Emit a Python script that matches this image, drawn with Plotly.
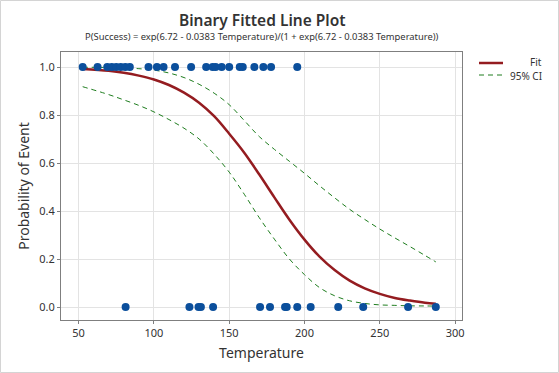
import plotly.graph_objects as go

# Observed events (Temperature) for Success = 1 and Success = 0
temp_success = [52.7, 62.6, 69, 72, 75, 78, 81, 84, 96.4, 102, 106.4, 114, 124.7,
                134.7, 139, 141, 145, 150, 157, 159, 166.7, 172.7, 177.8, 195.2]
temp_failure = [81.2, 123.6, 129.6, 131.2, 139.3, 170.5, 177.1, 187.1, 188.2,
                195.2, 204.1, 222.4, 239, 268.8, 287.2]

# Fitted curve and 95% CI
curve_temp = [52.7, 70, 80, 90, 100, 110, 120, 130, 140, 150, 160, 170, 180, 190,
              200, 210, 220, 230, 240, 250, 260, 270, 280, 287.2]
fit_prob = [0.992, 0.984, 0.976, 0.964, 0.948, 0.925, 0.893, 0.851, 0.795, 0.722, 0.643, 0.552,
            0.457, 0.364, 0.281, 0.21, 0.154, 0.11, 0.078, 0.055, 0.038, 0.027, 0.018, 0.014]
ci_upper = [0.999, 0.998, 0.996, 0.993, 0.987, 0.975, 0.956, 0.928, 0.891, 0.843, 0.777, 0.710,
            0.657, 0.607, 0.557, 0.505, 0.455, 0.407, 0.365, 0.325, 0.288, 0.252, 0.215, 0.188]
ci_lower = [0.918, 0.885, 0.863, 0.84, 0.813, 0.781, 0.745, 0.70, 0.637, 0.562, 0.47, 0.372,
            0.283, 0.20, 0.135, 0.081, 0.047, 0.026, 0.015, 0.009, 0.007, 0.005, 0.0045, 0.004]

x_ticks = [50, 100, 150, 200, 250, 300]
y_ticks = [0.0, 0.2, 0.4, 0.6, 0.8, 1.0]

FONT = "Noto Sans"
BLUE = "#0B4F9C"
RED = "#941C20"
GREEN = "#1E7D1E"

fig = go.Figure()
fig.add_trace(go.Scatter(x=curve_temp, y=ci_upper, mode="lines", line=dict(color=GREEN, width=1, dash="5px,4px", shape="spline"), showlegend=False))
fig.add_trace(go.Scatter(x=curve_temp, y=ci_lower, mode="lines", line=dict(color=GREEN, width=1, dash="5px,4px", shape="spline"), showlegend=False))
fig.add_trace(go.Scatter(x=curve_temp, y=fit_prob, mode="lines", line=dict(color=RED, width=2.5, shape="spline"), showlegend=False))
fig.add_trace(go.Scatter(x=temp_success, y=[1] * len(temp_success), mode="markers", marker=dict(color=BLUE, size=8), showlegend=False))
fig.add_trace(go.Scatter(x=temp_failure, y=[0] * len(temp_failure), mode="markers", marker=dict(color=BLUE, size=8), showlegend=False))

W, H = 559, 373
L, R, T, B = 61, 97, 52, 53
pw, ph = W - L - R, H - T - B

def px(xp):
    return (xp - L) / pw

def py(yp):
    return (H - B - yp) / ph

shapes = [
    # outer frame
    dict(type="rect", xref="paper", yref="paper", x0=px(0.5), x1=px(W - 0.5), y0=py(H - 0.5), y1=py(0.5),
         line=dict(color="#d4d4d4", width=1), layer="below"),
    # legend samples
    dict(type="line", xref="paper", yref="paper", x0=px(479), x1=px(503), y0=py(63), y1=py(63),
         line=dict(color=RED, width=2.5)),
    dict(type="line", xref="paper", yref="paper", x0=px(479), x1=px(503), y0=py(75), y1=py(75),
         line=dict(color=GREEN, width=1, dash="5px,4px")),
]

annotations = [
    dict(text="Binary Fitted Line Plot", xref="paper", yref="paper", x=px(262), y=py(20),
         showarrow=False, font=dict(family=FONT, size=15.5, color="#333333", weight=600), xanchor="center", yanchor="middle"),
    dict(text="P(Success) = exp(6.72 - 0.0383 Temperature)/(1 + exp(6.72 - 0.0383 Temperature))",
         xref="paper", yref="paper", x=px(262), y=py(37), showarrow=False,
         font=dict(family=FONT, size=9.4, color="#333333"), xanchor="center", yanchor="middle"),
    dict(text="Fit", xref="paper", yref="paper", x=px(544), y=py(62), showarrow=False,
         font=dict(family=FONT, size=10, color="#333333"), xanchor="right", yanchor="middle"),
    dict(text="95% CI", xref="paper", yref="paper", x=px(544), y=py(76), showarrow=False,
         font=dict(family=FONT, size=10, color="#333333"), xanchor="right", yanchor="middle"),
]

axis_common = dict(showgrid=True, gridcolor="#e3e3e3", gridwidth=1, zeroline=False,
                   showline=True, linecolor="#7f7f7f", linewidth=1, mirror=True,
                   ticks="outside", ticklen=3, tickcolor="#7f7f7f",
                   tickfont=dict(family=FONT, size=11, color="#333333"))

fig.update_layout(
    width=W, height=H,
    margin=dict(l=L, r=R, t=T, b=B, pad=0),
    paper_bgcolor="white", plot_bgcolor="white",
    showlegend=False,
    shapes=shapes, annotations=annotations,
    xaxis=dict(range=[38.3, 304.6], tickvals=x_ticks, ticktext=[str(v) for v in x_ticks],
               title=dict(text="Temperature", font=dict(family=FONT, size=14, color="#333333"), standoff=8),
               **axis_common),
    yaxis=dict(range=[-0.054, 1.0625], tickvals=y_ticks, ticktext=[f"{v:.1f}" for v in y_ticks],
               title=dict(text="Probability of Event", font=dict(family=FONT, size=14, color="#333333"), standoff=6),
               **axis_common),
)

fig.write_html("out.html", config={"displayModeBar": False},
               post_script="document.body.style.margin='0';document.body.style.padding='0';")
